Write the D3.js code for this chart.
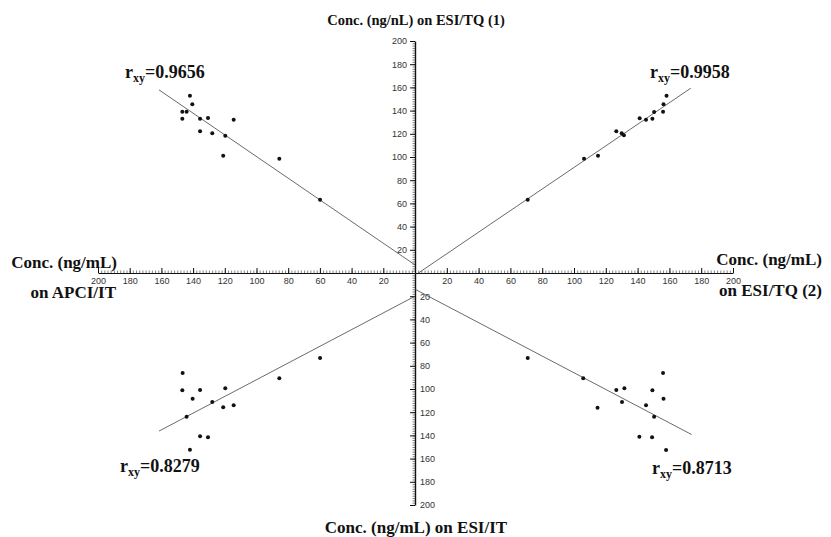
<!DOCTYPE html>
<html>
<head>
<meta charset="utf-8">
<script src="https://cdn.jsdelivr.net/npm/d3@7"></script>
<style>
  body { margin: 0; background: #fff; }
  .title { font-family: "Liberation Serif", "Times New Roman", serif; font-weight: bold; font-size: 17px; fill: #111; }
  .rlab { font-family: "Liberation Serif", "Times New Roman", serif; font-weight: bold; font-size: 18px; fill: #111; }
  .tick text { font-family: "Liberation Sans", Arial, sans-serif; font-size: 9px; fill: #333; }
</style>
</head>
<body>
<script>
// points per quadrant: [x value, y value]
var upperRight = [[70.9, 63.2], [106.3, 98.5], [115.1, 101.1], [126.6, 122.1], [130.0, 120.4], [131.4, 118.7],
  [141.3, 133.3], [145.3, 132.2], [149.3, 133.0], [150.4, 138.8], [156.0, 139.1], [156.3, 145.4], [158.2, 152.9]];
var upperLeft = [[142.0, 152.9], [140.5, 145.4], [146.8, 139.1], [144.1, 139.1], [146.8, 133.0], [135.6, 133.0],
  [130.6, 133.6], [114.4, 132.2], [135.6, 122.1], [127.9, 120.4], [119.7, 118.4], [121.0, 101.1], [85.6, 98.5], [59.9, 63.2]];
var lowerLeft = [[146.6, 86.2], [146.8, 101.1], [135.6, 100.9], [119.7, 99.4], [140.3, 108.3], [127.9, 111.2],
  [121.0, 115.8], [114.4, 114.1], [144.1, 123.9], [135.6, 140.8], [130.6, 141.7], [142.0, 152.3], [85.6, 90.8], [59.9, 73.3]];
var lowerRight = [[70.9, 73.3], [105.8, 90.8], [114.8, 116.1], [126.6, 100.9], [131.7, 99.4], [130.2, 111.2],
  [149.3, 101.1], [156.0, 86.2], [156.3, 108.3], [145.3, 114.1], [150.4, 123.9], [141.1, 141.1], [149.1, 141.7], [157.9, 152.6]];

// fitted lines: slope, intercept, x from, x to
var lineUR = [0.93, -2, 2, 173.5];
var lineUL = [0.934, 7, 0, 161.5];
var lineLL = [0.72, 20, 0, 161.5];
var lineLR = [0.72, 14, 0, 174];

var rValues = ["0.9958", "0.9656", "0.8279", "0.8713"];
var majorTicks = [20, 40, 60, 80, 100, 120, 140, 160, 180, 200];
var minorTicks = d3.range(2, 201, 2);

var W = 831, H = 537;
var cx = 415, cy = 273;

var svg = d3.select("body").append("svg").attr("width", W).attr("height", H);

var xR = d3.scaleLinear().domain([0, 200]).range([cx, 733]);
var xL = d3.scaleLinear().domain([0, 200]).range([cx, 98]);
var yU = d3.scaleLinear().domain([0, 200]).range([cy, 41]);
var yD = d3.scaleLinear().domain([0, 200]).range([cy, 505]);

// horizontal axis halves
[xL, xR].forEach(function (s) {
  svg.append("g").attr("transform", "translate(0," + cy + ")")
    .call(d3.axisBottom(s).tickValues(minorTicks).tickSize(-2.5).tickFormat(""))
    .call(function (g) { g.select(".domain").remove(); g.selectAll("line").attr("stroke", "#333").attr("stroke-width", 0.6); });
  svg.append("g").attr("transform", "translate(0," + cy + ")")
    .call(d3.axisBottom(s).tickValues(majorTicks).tickSize(-5).tickPadding(5).tickSizeOuter(0))
    .call(function (g) { g.select(".domain").attr("stroke", "#111").attr("stroke-width", 1.1); g.selectAll("line").attr("stroke", "#111"); });
});

// vertical axis, upper half
svg.append("g").attr("transform", "translate(" + cx + ",0)")
  .call(d3.axisLeft(yU).tickValues(minorTicks).tickSize(2.5).tickFormat(""))
  .call(function (g) { g.select(".domain").remove(); g.selectAll("line").attr("stroke", "#333").attr("stroke-width", 0.6); });
svg.append("g").attr("transform", "translate(" + cx + ",0)")
  .call(d3.axisLeft(yU).tickValues(majorTicks).tickSize(5).tickPadding(3).tickSizeOuter(0))
  .call(function (g) { g.select(".domain").attr("stroke", "#111").attr("stroke-width", 1.4); g.selectAll("line").attr("stroke", "#111"); });

// vertical axis, lower half
svg.append("g").attr("transform", "translate(" + cx + ",0)")
  .call(d3.axisRight(yD).tickValues(minorTicks).tickSize(-2.5).tickFormat(""))
  .call(function (g) { g.select(".domain").remove(); g.selectAll("line").attr("stroke", "#333").attr("stroke-width", 0.6); });
svg.append("g").attr("transform", "translate(" + cx + ",0)")
  .call(d3.axisRight(yD).tickValues(majorTicks).tickSize(-5).tickPadding(5).tickSizeOuter(0))
  .call(function (g) { g.select(".domain").attr("stroke", "#111").attr("stroke-width", 1.4); g.selectAll("line").attr("stroke", "#111"); });

// quadrants
var quads = [
  { pts: upperRight, line: lineUR, sx: xR, sy: yU },
  { pts: upperLeft, line: lineUL, sx: xL, sy: yU },
  { pts: lowerLeft, line: lineLL, sx: xL, sy: yD },
  { pts: lowerRight, line: lineLR, sx: xR, sy: yD }
];

quads.forEach(function (q) {
  var l = q.line;
  svg.append("line")
    .attr("x1", q.sx(l[2])).attr("y1", q.sy(l[0] * l[2] + l[1]))
    .attr("x2", q.sx(l[3])).attr("y2", q.sy(l[0] * l[3] + l[1]))
    .attr("stroke", "#444").attr("stroke-width", 0.8);

  svg.append("g").selectAll("circle")
    .data(q.pts).enter().append("circle")
    .attr("cx", function (d) { return q.sx(d[0]); })
    .attr("cy", function (d) { return q.sy(d[1]); })
    .attr("r", 2)
    .attr("fill", "#111");
});

// r labels
var rPos = [[650, 78], [125, 78], [120, 472], [652, 474]];
rPos.forEach(function (p, i) {
  var t = svg.append("text").attr("class", "rlab").attr("x", p[0]).attr("y", p[1]);
  t.append("tspan").text("r");
  t.append("tspan").attr("dy", 4).style("font-size", "12px").text("xy");
  t.append("tspan").attr("dy", -4).text("=" + rValues[i]);
});

// axis titles
function title(txt, x, y, anchor, size) {
  var t = svg.append("text").attr("class", "title").attr("x", x).attr("y", y)
    .attr("text-anchor", anchor).text(txt);
  if (size) t.style("font-size", size + "px");
}
title("Conc. (ng/nL) on ESI/TQ (1)", 416, 25, "middle", 14.5);
title("Conc. (ng/mL) on ESI/IT", 416, 533, "middle");
title("Conc. (ng/mL)", 117, 268, "end");
title("on APCI/IT", 116, 298, "end");
title("Conc. (ng/mL)", 822, 265, "end");
title("on ESI/TQ (2)", 822, 296, "end");
</script>
</body>
</html>
